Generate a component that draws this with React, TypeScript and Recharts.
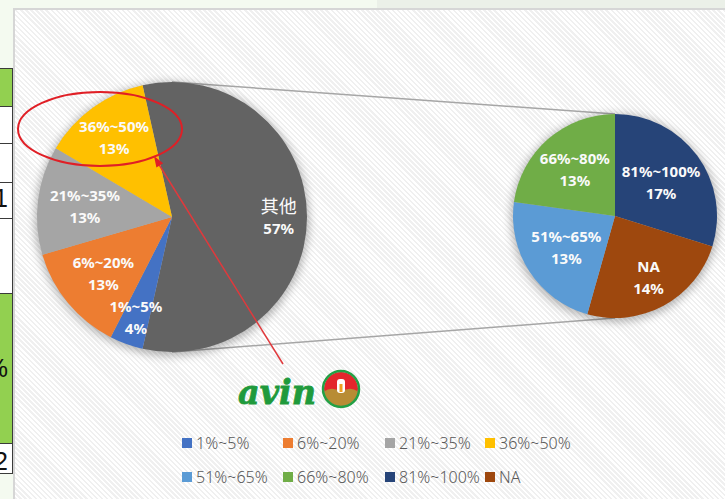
import React from 'react';
import { PieChart, Pie, Cell } from 'recharts';

// main pie: the small ranges plus the "other" slice that is broken out
const mainCategories = ['1%~5%', '6%~20%', '21%~35%', '36%~50%'];
const mainValues = [4, 13, 13, 13];
const otherName = '其他';
const otherValue = 57;

// secondary pie: what "其他" is made of (values are % of the whole)
const subCategories = ['81%~100%', 'NA', '51%~65%', '66%~80%'];
const subValues = [17, 14, 13, 13];

const legendNames = ['1%~5%', '6%~20%', '21%~35%', '36%~50%', '51%~65%', '66%~80%', '81%~100%', 'NA'];

const COLORS: Record<string, string> = {
  '1%~5%': '#4472c4',
  '6%~20%': '#ed7d31',
  '21%~35%': '#a5a5a5',
  '36%~50%': '#ffc000',
  '51%~65%': '#5b9bd5',
  '66%~80%': '#70ad47',
  '81%~100%': '#264478',
  NA: '#9e480e',
  其他: '#636363',
};

// where each data label sits, as a fraction of the radius
const MAIN_LABEL_R: Record<string, number> = {
  其他: 0.79,
  '1%~5%': 0.79,
  '6%~20%': 0.66,
  '21%~35%': 0.65,
  '36%~50%': 0.73,
};
const SUB_LABEL_R: Record<string, number> = {
  '81%~100%': 0.56,
  NA: 0.69,
  '51%~65%': 0.57,
  '66%~80%': 0.6,
};

const W = 725;
const H = 499;
const MAIN = { cx: 172, cy: 217, r: 135 };
const SUB = { cx: 615, cy: 216, r: 102 };
const RADIAN = Math.PI / 180;
const FONT = "'Noto Sans', 'Noto Sans CJK SC', sans-serif";

const mainData = [
  { name: otherName, value: otherValue },
  ...mainCategories.map((name, i) => ({ name, value: mainValues[i] })),
];
const subData = subCategories.map((name, i) => ({ name, value: subValues[i] }));

// "other" slice is centred on 3 o'clock, like Excel's pie of pie
const otherSweep = (otherValue / mainData.reduce((s, d) => s + d.value, 0)) * 360;
const mainStart = otherSweep / 2;

const makeLabel = (factors: Record<string, number>) => (props: any) => {
  const { cx, cy, midAngle, outerRadius, name, value } = props;
  const r = outerRadius * (factors[name] ?? 0.7);
  const x = cx + r * Math.cos(-midAngle * RADIAN);
  const y = cy + r * Math.sin(-midAngle * RADIAN);
  const isOther = name === otherName;
  return (
    <text x={x} y={y} fill="#fafafa" textAnchor="middle" fontFamily={FONT} fontSize={15} fontWeight="bold">
      <tspan x={x} y={y - 11 + (isOther ? 6.5 : 5.5)} fontSize={isOther ? 18 : 15} fontWeight={isOther ? 'normal' : 'bold'}>
        {name}
      </tspan>
      <tspan x={x} y={y + 11 + 5.5}>{value}%</tspan>
    </text>
  );
};

const arrowHead = (x0: number, y0: number, x1: number, y1: number, len: number, half: number) => {
  const dx = x1 - x0;
  const dy = y1 - y0;
  const l = Math.hypot(dx, dy);
  const ux = dx / l;
  const uy = dy / l;
  const bx = x1 - ux * len;
  const by = y1 - uy * len;
  return `${x1},${y1} ${bx - uy * half},${by + ux * half} ${bx + uy * half},${by - ux * half}`;
};

const TableEdge = () => (
  <svg width={13} height={H} style={{ position: 'absolute', left: 0, top: 0 }}>
    <rect x={0} y={68} width={13} height={38} fill="#92d050" />
    <rect x={0} y={106} width={13} height={187} fill="#ffffff" />
    <rect x={0} y={293} width={13} height={150} fill="#92d050" />
    <rect x={0} y={443} width={13} height={30} fill="#ffffff" />
    {[68, 106, 143, 182, 218, 293, 443, 473].map((y) => (
      <line key={y} x1={0} x2={13} y1={y + 0.5} y2={y + 0.5} stroke="#3a3a3a" strokeWidth={1} />
    ))}
    <line x1={12.5} x2={12.5} y1={68} y2={473} stroke="#3a3a3a" strokeWidth={1} />
    <g fontFamily="'Liberation Sans', Arial, sans-serif" fontSize={25} fill="#111" textAnchor="end">
      <text x={8} y={207}>1</text>
      <text x={8} y={377}>%</text>
      <text x={8} y={470}>2</text>
    </g>
  </svg>
);

const Legend = () => (
  <>
    {legendNames.map((name, i) => {
      const col = i % 4;
      const row = Math.floor(i / 4);
      const left = [182, 283, 385, 485][col];
      const top = [443, 477][row] - 11;
      return (
        <div
          key={name}
          style={{
            position: 'absolute',
            left,
            top,
            height: 22,
            display: 'flex',
            alignItems: 'center',
            fontFamily: FONT,
            fontSize: 16,
            fontWeight: 300,
            color: '#595959',
            whiteSpace: 'nowrap',
          }}
        >
          <span style={{ width: 10, height: 10, background: COLORS[name], marginRight: 4, display: 'inline-block' }} />
          {name}
        </div>
      );
    })}
  </>
);

export default function App() {
  const arrowFrom = { x: 283, y: 364 };
  const arrowTo = { x: 154, y: 156 };
  return (
    <div style={{ position: 'absolute', left: 0, top: 0, width: W, height: H, overflow: 'hidden', background: '#f4faf0' }}>
      <div style={{ position: 'absolute', left: 377, top: 0, width: W - 377, height: 8, background: '#ebf0e8' }} />
      <TableEdge />
      <div
        style={{
          position: 'absolute',
          left: 13,
          top: 8,
          width: W,
          height: H,
          boxSizing: 'border-box',
          borderLeft: '2px solid #d6d6d6',
          borderTop: '2px solid #d6d6d6',
          background: 'repeating-linear-gradient(45deg, #ffffff 0px, #ffffff 1.8px, #f0f0f0 1.8px, #f0f0f0 3.6px)',
        }}
      />
      <svg width={W} height={H} style={{ position: 'absolute', left: 0, top: 0 }}>
        <line x1={MAIN.cx} y1={MAIN.cy - MAIN.r} x2={SUB.cx} y2={SUB.cy - SUB.r} stroke="#a6a6a6" strokeWidth={1.5} />
        <line x1={MAIN.cx} y1={MAIN.cy + MAIN.r} x2={SUB.cx} y2={SUB.cy + SUB.r} stroke="#a6a6a6" strokeWidth={1.5} />
      </svg>
      <div style={{ position: 'absolute', left: 0, top: 0 }}>
        <PieChart width={W} height={H} margin={{ top: 0, right: 0, bottom: 0, left: 0 }}>
          <defs>
            <filter id="pieShadow" x="-20%" y="-20%" width="140%" height="140%">
              <feGaussianBlur stdDeviation="4" />
            </filter>
          </defs>
          <Pie
            data={[{ name: 'shadow', value: 1 }]}
            dataKey="value"
            cx={MAIN.cx}
            cy={MAIN.cy + 2}
            outerRadius={MAIN.r + 2}
            stroke="none"
            isAnimationActive={false}
          >
            <Cell fill="rgba(0,0,0,0.28)" filter="url(#pieShadow)" />
          </Pie>
          <Pie
            data={[{ name: 'shadow2', value: 1 }]}
            dataKey="value"
            cx={SUB.cx}
            cy={SUB.cy + 2}
            outerRadius={SUB.r + 2}
            stroke="none"
            isAnimationActive={false}
          >
            <Cell fill="rgba(0,0,0,0.28)" filter="url(#pieShadow)" />
          </Pie>
          <Pie
            data={mainData}
            dataKey="value"
            nameKey="name"
            cx={MAIN.cx}
            cy={MAIN.cy}
            outerRadius={MAIN.r}
            startAngle={mainStart}
            endAngle={mainStart - 360}
            stroke="none"
            label={makeLabel(MAIN_LABEL_R)}
            labelLine={false}
            isAnimationActive={false}
          >
            {mainData.map((d) => (
              <Cell key={d.name} fill={COLORS[d.name]} />
            ))}
          </Pie>
          <Pie
            data={subData}
            dataKey="value"
            nameKey="name"
            cx={SUB.cx}
            cy={SUB.cy}
            outerRadius={SUB.r}
            startAngle={90}
            endAngle={-270}
            stroke="none"
            label={makeLabel(SUB_LABEL_R)}
            labelLine={false}
            isAnimationActive={false}
          >
            {subData.map((d) => (
              <Cell key={d.name} fill={COLORS[d.name]} />
            ))}
          </Pie>
        </PieChart>
      </div>
      <svg width={W} height={H} style={{ position: 'absolute', left: 0, top: 0, pointerEvents: 'none' }}>
        <ellipse cx={100} cy={129} rx={82} ry={37} fill="none" stroke="#e01f26" strokeWidth={2} />
        <line x1={arrowFrom.x} y1={arrowFrom.y} x2={arrowTo.x + 4} y2={arrowTo.y + 7} stroke="#e0393c" strokeWidth={1.5} />
        <polygon points={arrowHead(arrowFrom.x, arrowFrom.y, arrowTo.x, arrowTo.y, 11, 4)} fill="#e01f26" />
        <text
          x={238}
          y={404}
          fill="#1f9a3c"
          stroke="#1f9a3c"
          strokeWidth={0.8}
          fontFamily="'DejaVu Serif', serif"
          fontStyle="italic"
          fontWeight="bold"
          fontSize={34}
          textLength={78}
          lengthAdjust="spacingAndGlyphs"
        >
          avin
        </text>
        <defs>
          <clipPath id="logoClip">
            <circle cx={341} cy={389} r={17} />
          </clipPath>
        </defs>
        <g clipPath="url(#logoClip)">
          <rect x={322} y={370} width={38} height={38} fill="#e3262c" />
          <path d="M322 393 Q331 385 341 392 Q351 385 360 393 L360 410 L322 410 Z" fill="#b88c34" />
          <rect x={337} y={379} width={8} height={14} rx={3} fill="#ffffff" />
          <rect x={339.5} y={384} width={3} height={8} fill="#f0a020" />
        </g>
        <circle cx={341} cy={389} r={18} fill="none" stroke="#23a045" strokeWidth={2.5} />
      </svg>
      <Legend />
    </div>
  );
}
